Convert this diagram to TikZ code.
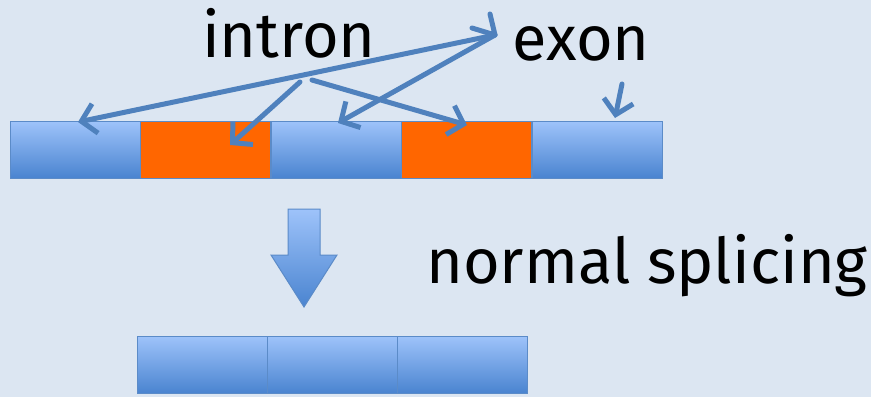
\documentclass[tikz,border=0pt]{standalone}
\usepackage{fontspec}
\setmainfont{Fira Sans}
\usetikzlibrary{arrows.meta}
\definecolor{bg}{HTML}{DCE6F2}
\definecolor{btop}{HTML}{9EC3FA}
\definecolor{bbot}{HTML}{4A84D0}
\definecolor{bedge}{HTML}{5B8BC8}
\definecolor{orng}{HTML}{FF6600}
\definecolor{arr}{HTML}{4F81BD}
\tikzset{
  exonbox/.style={draw=bedge, line width=1pt, top color=btop, bottom color=bbot, minimum width=130pt, minimum height=57pt, inner sep=0pt, outer sep=0pt},
  intronbox/.style={draw=bedge, line width=1pt, fill=orng, minimum width=130pt, minimum height=57pt, inner sep=0pt, outer sep=0pt},
  pointer/.style={draw=arr, line width=5pt, line cap=round, -{Straight Barb[length=14pt,width=30pt,line width=5pt]}},
  lbl/.style={font=\fontsize{63}{70}\selectfont, text=black, inner sep=0pt, anchor=base},
}
\begin{document}
\begin{tikzpicture}[x=1pt,y=-1pt]
\fill[bg] (0,0) rectangle (871,397);
\useasboundingbox (0,0) rectangle (871,397);
% top row
\node[exonbox,   anchor=north west] (e1) at (10,121)  {};
\node[intronbox, anchor=north west] (i1) at (140.5,121) {};
\node[exonbox,   anchor=north west] (e2) at (271,121) {};
\node[intronbox, anchor=north west] (i2) at (401.5,121) {};
\node[exonbox,   anchor=north west] (e3) at (532,121) {};
% labels
\node[lbl] (intron) at (289,57) {intron};
\node[lbl] (exon) at (581,60) {exon};
\node[lbl] (ns) at (647,283) {normal splicing};
% coordinates
\coordinate (xsrc) at (495,35);
\coordinate (isrc1) at (300,82);
\coordinate (isrc2) at (312,80);
\coordinate (x5src) at (622,84);
\coordinate (t1) at (78,122);
\coordinate (t2) at (230,145);
\coordinate (t3) at (338,123);
\coordinate (t4) at (467,125);
\coordinate (t5) at (615,118);
\draw[pointer] (xsrc) -- (t1);
\draw[pointer] (xsrc) -- (t3);
\draw[pointer] (isrc1) -- (t2);
\draw[pointer] (isrc2) -- (t4);
\draw[pointer] (x5src) -- (t5);
\coordinate (hA) at (490,14);
\coordinate (hB) at (472,28);
\draw[draw=arr, line width=5pt, line cap=round, line join=round] (hA) -- (xsrc) -- (hB);
% block arrow
\shade[top color=btop, bottom color=bbot, draw=bedge, line width=1pt]
  (288,209) -- (320,209) -- (320,255) -- (337,255) -- (304,307) -- (271,255) -- (288,255) -- cycle;
% bottom row
\node[exonbox, anchor=north west] (b1) at (137,336) {};
\node[exonbox, anchor=north west] (b2) at (267,336) {};
\node[exonbox, anchor=north west] (b3) at (397,336) {};
\end{tikzpicture}
\end{document}
